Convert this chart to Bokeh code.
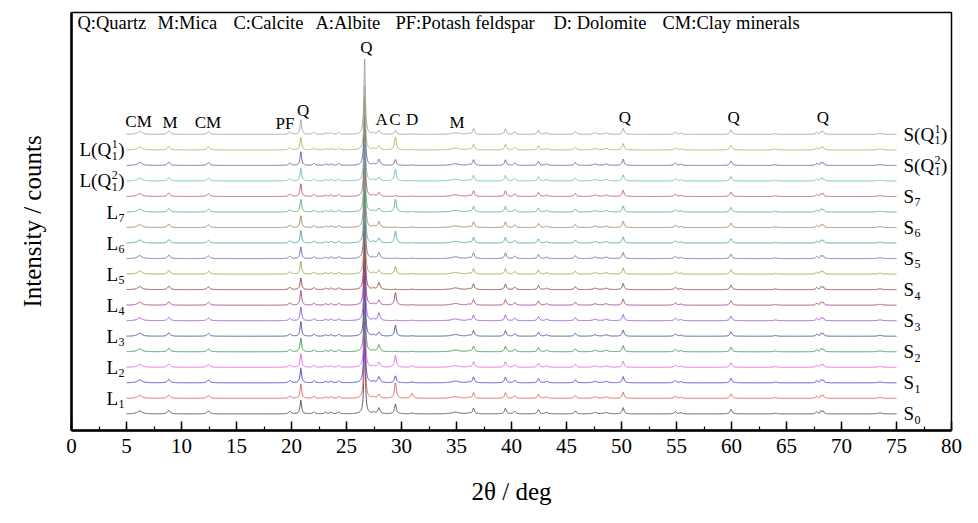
import numpy as np
from bokeh.plotting import figure
from bokeh.models import Range1d, FixedTicker, SingleIntervalTicker
from bokeh.core.properties import value
from bokeh.embed import file_html
from bokeh.resources import INLINE

FONT = "Liberation Serif"

# ---------------- data ----------------
# traces from bottom to top
sample_names = ["S0", "L1", "S1", "L2", "S2", "L3", "S3", "L4", "S4", "L5",
                "S5", "L6", "S6", "L7", "S7", "L(Q1^2)", "S(Q1^2)", "L(Q1^1)", "S(Q1^1)"]
sample_colors = ["#4a4a4a", "#e05a5a", "#3f3fd0", "#e060e0", "#3f8f3f", "#4a4a8f",
                 "#8f4fe0", "#a0407f", "#8f3f3f", "#a0a04a", "#5f6fa0", "#4fa0a0",
                 "#a07f5f", "#4fb07f", "#c04f6f", "#5fc0c0", "#5f5fa0", "#b0b05f", "#a0a0a0"]

# peaks common to all samples: 2theta (deg), height (counts), FWHM (deg)
common_pos = [6.2, 8.85, 12.45, 19.85, 22.05, 23.1, 23.6, 24.3, 27.45, 34.9,
              36.1, 36.55, 39.45, 40.3, 42.45, 43.2, 45.8, 47.6, 48.6, 50.15,
              54.9, 55.4, 59.95, 64.0, 67.75, 68.15, 68.35, 73.5]
common_height = [190, 220, 180, 150, 130, 90, 100, 120, 90, 110,
                 60, 360, 360, 170, 260, 90, 190, 90, 90, 400,
                 140, 70, 290, 50, 130, 190, 160, 60]
common_fwhm = [0.5, 0.28, 0.3, 0.25, 0.22, 0.22, 0.22, 0.22, 0.22, 0.8,
               0.22, 0.2, 0.2, 0.22, 0.2, 0.3, 0.22, 0.4, 0.4, 0.2,
               0.25, 0.25, 0.22, 0.3, 0.2, 0.16, 0.16, 0.4]

# sample dependent peaks (counts), one value per trace, bottom to top
quartz_2085 = [880, 945, 945, 880, 880, 945, 880, 945, 755, 820,
               755, 820, 755, 820, 820, 820, 880, 820, 945]
quartz_2665 = [4910, 5040, 4790, 4660, 4850, 4540, 4725, 4660, 4410, 4600,
               4535, 4475, 4660, 4410, 4535, 4285, 4410, 4160, 4915]
albite_2795 = [380, 250, 380, 315, 440, 250, 500, 315, 440, 250,
               380, 315, 380, 250, 250, 250, 380, 250, 250]
calcite_2945 = [630, 1000, 440, 760, 30, 700, 30, 820, 30, 500,
                30, 760, 30, 820, 50, 760, 380, 820, 250]
dolomite_3095 = [60, 315, 60, 120, 30, 30, 30, 30, 30, 30,
                 30, 30, 30, 30, 30, 30, 30, 30, 30]

offset_step = 1000
base_level = 1070

two_theta = np.arange(5.0, 75.0 + 1e-9, 0.02)


def lorentz(x, pos, h, w):
    return h / (1.0 + ((x - pos) / (w / 2.0)) ** 2)


# ---------------- figure ----------------
p = figure(width=962, height=507, x_range=Range1d(0, 80), y_range=Range1d(0, 26920),
           output_backend="svg", toolbar_location=None,
           min_border_left=71, min_border_right=11, min_border_top=12, min_border_bottom=67)
p.background_fill_color = "white"
p.border_fill_color = "white"
p.xgrid.visible = False
p.ygrid.visible = False
p.outline_line_color = "black"
p.outline_line_width = 1.5

for i, name in enumerate(sample_names):
    y = np.full_like(two_theta, base_level + i * offset_step, dtype=float)
    for pos, h, w in zip(common_pos, common_height, common_fwhm):
        y += lorentz(two_theta, pos, h, w)
    y += lorentz(two_theta, 20.85, quartz_2085[i], 0.17)
    y += lorentz(two_theta, 26.65, quartz_2665[i], 0.15)
    y += lorentz(two_theta, 27.95, albite_2795[i], 0.24)
    y += lorentz(two_theta, 29.45, calcite_2945[i], 0.2)
    y += lorentz(two_theta, 30.95, dolomite_3095[i], 0.24)
    p.line(two_theta, y, line_color=sample_colors[i], line_width=1.0, line_alpha=0.9)

# ---------------- axes ----------------
xa = p.xaxis[0]
xa.ticker = SingleIntervalTicker(interval=5, num_minor_ticks=2)
xa.axis_line_width = 2.5
xa.axis_line_color = "black"
xa.major_tick_in = 9
xa.major_tick_out = 0
xa.minor_tick_in = 4
xa.minor_tick_out = 0
xa.major_tick_line_width = 1.5
xa.minor_tick_line_width = 1.2
xa.major_tick_line_color = "black"
xa.minor_tick_line_color = "black"
xa.major_label_text_font = FONT
xa.major_label_text_font_size = "21px"
xa.major_label_text_color = "black"
xa.major_label_standoff = 8
xa.axis_label = "2θ / deg"
xa.axis_label_text_font = FONT
xa.axis_label_text_font_size = "25px"
xa.axis_label_text_font_style = "normal"
xa.axis_label_text_color = "black"
xa.axis_label_standoff = 22

ya = p.yaxis[0]
ya.ticker = FixedTicker(ticks=[])
ya.axis_line_width = 2.5
ya.axis_line_color = "black"
ya.major_tick_in = 0
ya.major_tick_out = 0
ya.minor_tick_in = 0
ya.minor_tick_out = 0
ya.axis_label = "Intensity / counts"
ya.axis_label_text_font = FONT
ya.axis_label_text_font_size = "25px"
ya.axis_label_text_font_style = "normal"
ya.axis_label_text_color = "black"
ya.axis_label_standoff = 26

PXY = 62.9           # counts per pixel


def img_x(px):
    return (px - 71) / 11.0


def img_y(py):
    return (440 - py) * PXY


# ---------------- header legend ----------------
header_items = ["Q:Quartz", "M:Mica", "C:Calcite", "A:Albite", "PF:Potash feldspar",
                "D: Dolomite", "CM:Clay minerals"]
header_px = [77, 157, 233, 315, 395, 553, 662]
p.text(x=[img_x(v) for v in header_px], y=[img_y(23)] * len(header_items), text=header_items,
       text_font=value(FONT), text_font_size="18.5px", text_align="left",
       text_baseline="middle", text_color="black")

# ---------------- phase labels ----------------
phase_text = ["CM", "M", "CM", "PF", "Q", "Q", "A", "C", "D", "M", "Q", "Q", "Q"]
phase_x = [6.1, 8.95, 12.4, 19.4, 21.05, 26.8, 28.2, 29.4, 30.97, 35.06, 50.3, 60.2, 68.3]
phase_py = [124, 125, 125, 126, 112, 48, 122, 122, 122, 125, 120, 120, 120]
p.text(x=phase_x, y=[img_y(v) for v in phase_py], text=phase_text,
       text_font=value(FONT), text_font_size="17px", text_align="center",
       text_baseline="middle", text_color="black")

# ---------------- sample labels ----------------
CW = {"S": 0.556, "L": 0.611, "(": 0.333, ")": 0.333, "Q": 0.722}
MAIN = 19
SMALL = 12


def tw(s, size):
    return sum(CW.get(c, 0.5) for c in s) * size


main_x, main_y, main_t = [], [], []
small_x, small_y, small_t = [], [], []
for i, name in enumerate(sample_names):
    y0 = base_level + i * offset_step
    if "Q1^" in name:
        prefix = name[0] + "(Q"
        sup = name.split("^")[1][0]
        sub = "1"
        suffix = ")"
    else:
        prefix = name[0]
        sup = None
        sub = name[1:]
        suffix = ""
    total = tw(prefix, MAIN) + 0.5 + 0.5 * SMALL + (tw(suffix, MAIN) + 0.5 if suffix else 0)
    start = 903 if name.startswith("S") else 124 - total
    main_x.append(img_x(start)); main_y.append(y0); main_t.append(prefix)
    xs = start + tw(prefix, MAIN) + 0.5
    small_x.append(img_x(xs)); small_y.append(y0 - 6 * PXY); small_t.append(sub)
    if sup is not None:
        small_x.append(img_x(xs)); small_y.append(y0 + 6 * PXY); small_t.append(sup)
    if suffix:
        main_x.append(img_x(xs + 0.5 * SMALL + 0.5)); main_y.append(y0); main_t.append(suffix)

p.text(x=main_x, y=main_y, text=main_t, text_font=value(FONT), text_font_size=f"{MAIN}px",
       text_align="left", text_baseline="middle", text_color="black")
p.text(x=small_x, y=small_y, text=small_t, text_font=value(FONT), text_font_size=f"{SMALL}px",
       text_align="left", text_baseline="middle", text_color="black")

open("out.html", "w").write(file_html(p, INLINE))
